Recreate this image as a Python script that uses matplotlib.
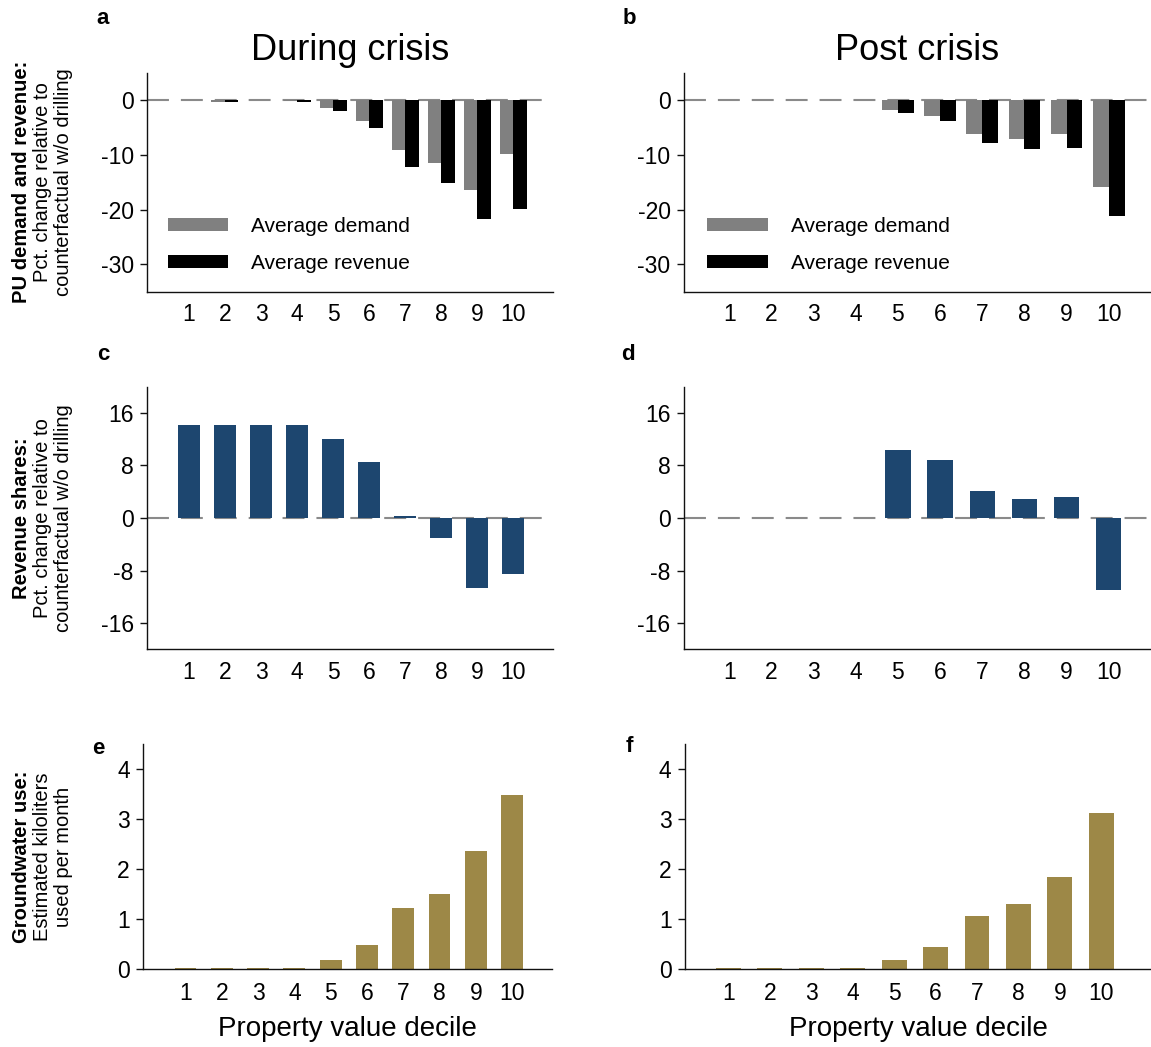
import matplotlib
matplotlib.use("Agg")
import matplotlib.pyplot as plt
import numpy as np

plt.rcParams["font.family"] = ["Liberation Sans", "DejaVu Sans"]
plt.rcParams["lines.scale_dashes"] = False

# ---- data -------------------------------------------------------------
deciles = [1, 2, 3, 4, 5, 6, 7, 8, 9, 10]
decile_labels = ["1", "2", "3", "4", "5", "6", "7", "8", "9", "10"]

during_demand = [0.0, -0.3, 0.0, -0.1, -1.4, -3.8, -9.1, -11.4, -16.4, -9.9]
during_revenue = [0.0, -0.4, 0.0, -0.4, -2.0, -5.0, -12.2, -15.2, -21.8, -19.9]
post_demand = [0.0, 0.0, 0.0, 0.0, -1.8, -2.8, -6.1, -7.0, -6.1, -15.8]
post_revenue = [0.0, 0.0, 0.0, 0.0, -2.4, -3.8, -7.8, -9.0, -8.7, -21.2]

during_share = [14.2, 14.2, 14.2, 14.2, 12.05, 8.56, 0.35, -3.1, -10.7, -8.56]
post_share = [0.0, 0.0, 0.0, 0.0, 10.4, 8.86, 4.15, 2.94, 3.24, -11.0]

during_gw = [0.02, 0.02, 0.02, 0.035, 0.19, 0.49, 1.23, 1.51, 2.37, 3.49]
post_gw = [0.02, 0.02, 0.02, 0.035, 0.19, 0.45, 1.07, 1.31, 1.85, 3.13]

titles = ["During crisis", "Post crisis"]
legend_labels = ["Average demand", "Average revenue"]
row_labels = [
    ("PU demand and revenue:", "Pct. change relative to", "counterfactual w/o drilling"),
    ("Revenue shares:", "Pct. change relative to", "counterfactual w/o drilling"),
    ("Groundwater use:", "Estimated kiloliters", "used per month"),
]
xlabel = "Property value decile"

# ---- style ------------------------------------------------------------
GRAY = "#808080"
BLACK = "#000000"
NAVY = "#1d466f"
OLIVE = "#9d8847"
ZERO = "#8a8a8a"
TICK_FS = 16.5
W, H = 1151, 1047

fig = plt.figure(figsize=(W / 100, H / 100), dpi=100)


def rect(x0, x1, y0, y1):
    return [x0 / W, 1 - y1 / H, (x1 - x0) / W, (y1 - y0) / H]


ax_a = fig.add_axes(rect(147.3, 553, 73, 291.5))
ax_b = fig.add_axes(rect(684, 1151, 73, 291.5))
ax_c = fig.add_axes(rect(147.3, 553, 386.7, 649.3))
ax_d = fig.add_axes(rect(684, 1151, 386.7, 649.3))
ax_e = fig.add_axes(rect(143.3, 552, 744, 969.3))
ax_f = fig.add_axes(rect(685, 1151, 744, 969.3))

xlims = {
    ax_a: (-0.158, 11.11), ax_c: (-0.158, 11.11),
    ax_b: (-0.071, 11.0), ax_d: (-0.071, 11.0),
    ax_e: (-0.163, 11.1), ax_f: (-0.046, 11.2),
}


def style(ax, ylim, yticks):
    ax.set_xlim(*xlims[ax])
    ax.set_ylim(*ylim)
    ax.set_yticks(yticks)
    ax.set_yticklabels([str(t) for t in yticks])
    ax.set_xticks(deciles)
    ax.set_xticklabels(decile_labels)
    for s in ("top", "right"):
        ax.spines[s].set_visible(False)
    for s in ("left", "bottom"):
        ax.spines[s].set_linewidth(1.0)
        ax.spines[s].set_color("#111111")
        ax.spines[s].set_zorder(4)
    ax.tick_params(axis="y", length=5.2, width=1.0, pad=4.5,
                   labelsize=TICK_FS, color="#111111")
    ax.tick_params(axis="x", length=0, pad=8.3, labelsize=TICK_FS)


def zero_line(ax):
    ax.axhline(0, color=ZERO, lw=1.5, linestyle=(0, (15.8, 8.6)), zorder=1)


# ---- row 1: demand and revenue ---------------------------------------
x = np.array(deciles, dtype=float)
bw = 0.375
for ax, dem, rev in ((ax_a, during_demand, during_revenue),
                     (ax_b, post_demand, post_revenue)):
    zero_line(ax)
    h1 = ax.bar(x - bw / 2, dem, width=bw, color=GRAY, zorder=2)
    h2 = ax.bar(x + bw / 2, rev, width=bw, color=BLACK, zorder=2)
    style(ax, (-35, 5), [-30, -20, -10, 0])
    ax.legend([h1, h2], legend_labels, loc="center left",
              bbox_to_anchor=(0.05, 0.213), frameon=False,
              fontsize=15, handlelength=2.9, handleheight=0.58,
              handletextpad=1.1, labelspacing=0.83, borderpad=0,
              borderaxespad=0)

ax_a.set_title(titles[0], fontsize=26, pad=9)
ax_b.set_title(titles[1], fontsize=26, pad=9)

# ---- row 2: revenue shares -------------------------------------------
for ax, vals in ((ax_c, during_share), (ax_d, post_share)):
    zero_line(ax)
    ax.bar(x, vals, width=0.6, color=NAVY, zorder=2)
    style(ax, (-20, 20), [-16, -8, 0, 8, 16])

# ---- row 3: groundwater use ------------------------------------------
for ax, vals in ((ax_e, during_gw), (ax_f, post_gw)):
    ax.bar(x, vals, width=0.6, color=OLIVE, zorder=2)
    style(ax, (0, 4.5), [0, 1, 2, 3, 4])
    ax.tick_params(axis="x", pad=9)
    ax.set_xlabel(xlabel, fontsize=20, labelpad=8)

# ---- panel letters ----------------------------------------------------
for letter, px, py in (("a", 103, 18), ("b", 629, 18), ("c", 103, 355),
                       ("d", 628, 355), ("e", 98, 748), ("f", 629, 747)):
    fig.text(px / W, 1 - py / H, letter, fontsize=16, fontweight="bold",
             ha="center", va="center")

# ---- row labels -------------------------------------------------------
row_centers = [(73 + 291.5) / 2, (386.7 + 649.3) / 2, (744 + 969.3) / 2]
for (bold, l2, l3), cy in zip(row_labels, row_centers):
    yy = 1 - cy / H
    fig.text(21.5 / W, yy, bold, fontsize=14.5, fontweight="bold",
             rotation=90, ha="center", va="center")
    fig.text(42.5 / W, yy, l2, fontsize=14.5, rotation=90,
             ha="center", va="center")
    fig.text(63.5 / W, yy, l3, fontsize=14.5, rotation=90,
             ha="center", va="center")

fig.savefig("out.png", dpi=100)
